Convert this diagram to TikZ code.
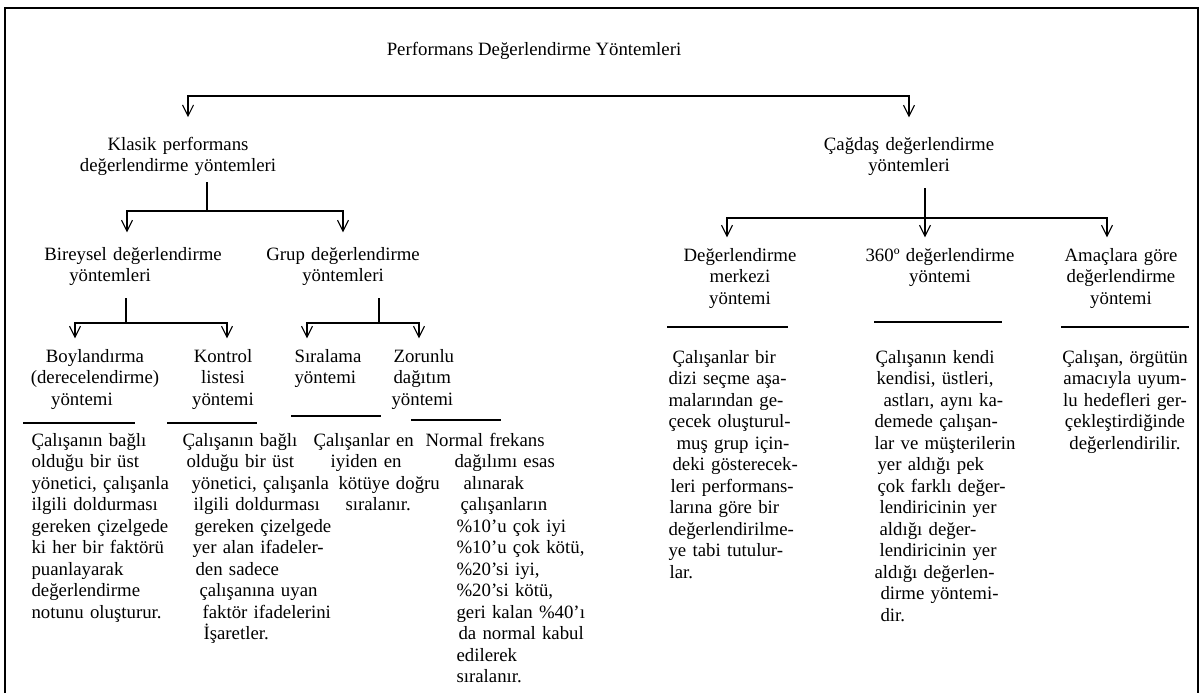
\documentclass[tikz,border=0pt]{standalone}
\usepackage{fontspec}
\setmainfont{Liberation Serif}
\usetikzlibrary{arrows.meta}

\begin{document}
\begin{tikzpicture} [x=1pt, y=-1pt, line width=1.1pt,
  every node/.style={inner sep=0pt, font=\fontsize{18.8}{21.5}\selectfont},
  head/.style={align=center, text width=240pt, anchor=base},
  headl/.style={align=left, text width=200pt, anchor=base west},
  body/.style={align=left, text width=190pt, anchor=base west},
  bodyc/.style={align=center, text width=190pt, anchor=base},
  >={Straight Barb[length=11pt, width=11pt]}]
\useasboundingbox (0,0) rectangle (1201,693);
\draw [line width=2pt] (5,693) -- (5,8) -- (1198,8) -- (1198,693);
% headers
\node [anchor=base] (p) at (534,56) {Performans Değerlendirme Yöntemleri};
\node [head] (k) at (178,150) {Klasik performans\\değerlendirme yöntemleri};
\node [head] (c) at (909,150) {Çağdaş değerlendirme\\yöntemleri};
\node [head] (b) at (127,260) {\hspace*{12pt}Bireysel değerlendirme\\\hspace*{-34pt}yöntemleri};
\node [head] (g) at (343,260) {Grup değerlendirme\\yöntemleri};
\node [head] (e1) at (740,261) {Değerlendirme\\merkezi\\yöntemi};
\node [head] (e2) at (940,261) {360º değerlendirme\\yöntemi};
\node [head] (e3) at (1121,261) {Amaçlara göre\\değerlendirme\\yöntemi};
\node [head] (b1) at (95,362) {Boylandırma\\(derecelendirme)\\\hspace*{-26pt}yöntemi};
\node [head] (b2) at (223,362) {Kontrol\\listesi\\yöntemi};
\node [headl] (g1) at (294,362) {Sıralama\\yöntemi};
\node [headl] (g2) at (391,362) {\hspace*{2pt}Zorunlu\\\hspace*{2pt}dağıtım\\yöntemi};
% underlines
\foreach \xa/\xb/\yy in {23/135/423, 167/257/423, 291/381/416, 411/501/420, 667/788/327, 874/1002/322, 1061/1189/327}
  \draw (\xa,\yy) -- (\xb,\yy);
% texts
\node [body] (b1t) at (31,446) {Çalışanın bağlı\\olduğu bir üst\\yönetici, çalışanla\\ilgili doldurması\\gereken çizelgede\\ki her bir faktörü\\puanlayarak\\değerlendirme\\notunu oluşturur.};
\node [body] (b2t) at (182,446) {Çalışanın bağlı\\\hspace*{4pt}olduğu bir üst\\\hspace*{9pt}yönetici, çalışanla\\\hspace*{11pt}ilgili doldurması\\\hspace*{12pt}gereken çizelgede\\\hspace*{10pt}yer alan ifadeler-\\\hspace*{13pt}den sadece\\\hspace*{17pt}çalışanına uyan\\\hspace*{20pt}faktör ifadelerini\\\hspace*{21pt}İşaretler.};
\node [body] (g1t) at (313,446) {Çalışanlar en\\\hspace*{17pt}iyiden en\\\hspace*{25pt}kötüye doğru\\\hspace*{32pt}sıralanır.};
\node [body] (g2t) at (456,446) {\hspace*{-31pt}Normal frekans\\\hspace*{-2pt}dağılımı esas\\\hspace*{7pt}alınarak\\\hspace*{4pt}çalışanların\\\%10’u çok iyi\\\%10’u çok kötü,\\\%20’si iyi,\\\%20’si kötü,\\geri kalan \%40’ı\\\hspace*{2pt}da normal kabul\\edilerek\\sıralanır.};
\node [body] (e1t) at (668,363) {\hspace*{4pt}Çalışanlar bir\\dizi seçme aşa-\\malarından ge-\\çecek oluşturul-\\\hspace*{8pt}muş grup için-\\\hspace*{4pt}deki gösterecek-\\\hspace*{2pt}leri performans-\\\hspace*{1pt}larına göre bir\\değerlendirilme-\\ye tabi tutulur-\\\hspace*{1pt}lar.};
\node [body] (e2t) at (874,363) {\hspace*{1pt}Çalışanın kendi\\\hspace*{2pt}kendisi, üstleri,\\\hspace*{9pt}astları, aynı ka-\\demede çalışan-\\lar ve müşterilerin\\\hspace*{3pt}yer aldığı pek\\\hspace*{3pt}çok farklı değer-\\\hspace*{5pt}lendiricinin yer\\\hspace*{5pt}aldığı değer-\\\hspace*{5pt}lendiricinin yer\\aldığı değerlen-\\\hspace*{6pt}dirme yöntemi-\\\hspace*{6pt}dir.};
\node [bodyc] (e3t) at (1125,363) {Çalışan, örgütün\\amacıyla uyum-\\lu hedefleri ger-\\çekleştirdiğinde\\değerlendirilir.};
% connectors
\coordinate (t) at (540,96);
\draw [<->, shorten <=19pt, shorten >=19pt] ([xshift=10pt]k.north) |- (t) -| (c.north);
\coordinate (kj) at (207,211);
\draw [shorten <=6pt] (kj |- k.south) -- (kj);
\draw [<->, shorten <=14pt, shorten >=14pt] (b.north) |- (kj) -| (g.north);
\coordinate (cj) at (925,218);
\draw [->, shorten <=12pt, shorten >=10pt] (cj |- c.south) -- (cj |- e2.north);
\draw [<->, shorten <=10pt, shorten >=10pt] ([xshift=-13pt]e1.north) |- (cj) -| ([xshift=-14pt]e3.north);
\coordinate (bj) at (126,323);
\draw [shorten <=12pt] (bj |- b.south) -- (bj);
\draw [<->, shorten <=10pt, shorten >=10pt] ([xshift=-20pt]b1.north) |- (bj) -| ([xshift=4pt]b2.north);
\coordinate (gj) at (379,323);
\draw [shorten <=12pt] (gj |- g.south) -- (gj);
\draw [<->, shorten <=10pt, shorten >=10pt] ([xshift=13pt]g1.north west) |- (gj) -| ([xshift=28pt]g2.north west);
\end{tikzpicture}
\end{document}
